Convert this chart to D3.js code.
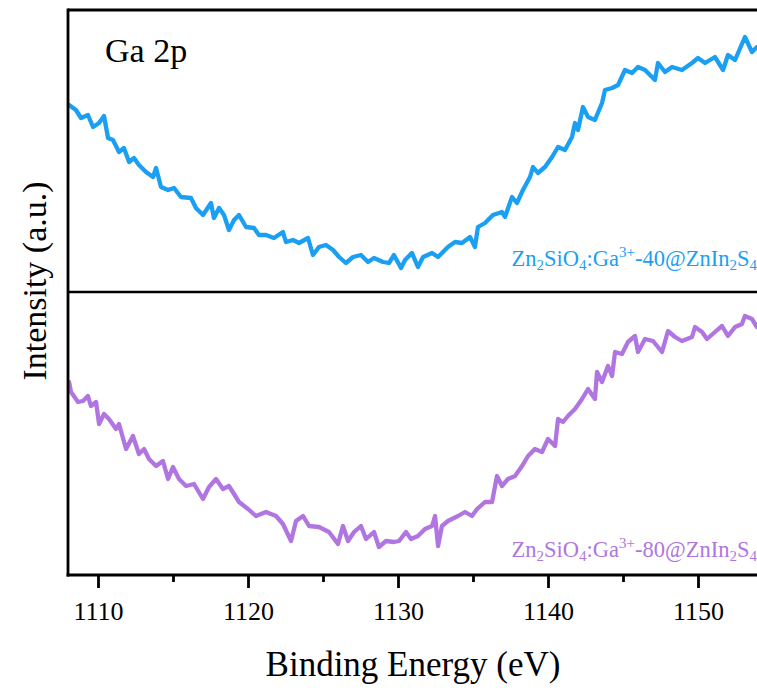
<!DOCTYPE html>
<html>
<head>
<meta charset="utf-8">
<script src="https://cdn.jsdelivr.net/npm/d3@7"></script>
<style>
  html, body { margin: 0; padding: 0; background: #fff; }
  svg { display: block; }
  text { font-family: "Liberation Serif", "Times New Roman", serif; }
</style>
</head>
<body>
<svg id="chart" width="757" height="693"></svg>
<script>
// ---------- data ----------
const xTicksMajor = [1110, 1120, 1130, 1140, 1150];
const xTicksMinor = [1115, 1125, 1135, 1145];
const xDomain = [1108, 1154];

// Series 1: Zn2SiO4:Ga3+-40@ZnIn2S4 (top panel), binding energy (eV) and intensity (a.u.)
const energy40 = [1108.07,1108.53,1108.87,1109.33,1109.67,1110.07,1110.40,1110.67,1111.00,1111.40,1111.73,1112.07,1112.40,1112.73,1113.20,1113.67,1113.87,1114.20,1114.67,1115.07,1115.53,1116.20,1116.53,1117.00,1117.53,1117.73,1118.07,1118.40,1118.73,1119.07,1119.40,1119.87,1120.40,1120.73,1121.20,1121.73,1122.33,1122.53,1123.00,1123.40,1124.00,1124.33,1124.73,1125.20,1125.67,1126.07,1126.53,1127.00,1127.53,1128.00,1128.40,1129.00,1129.40,1129.73,1130.20,1130.47,1130.93,1131.33,1131.67,1132.27,1132.67,1133.33,1133.80,1134.27,1134.80,1135.13,1135.33,1135.80,1136.33,1136.93,1137.13,1137.60,1137.93,1138.33,1138.80,1139.00,1139.33,1139.80,1140.27,1140.67,1141.13,1141.60,1141.80,1142.00,1142.33,1142.67,1143.13,1143.60,1143.80,1144.27,1144.67,1145.13,1145.60,1146.00,1146.47,1147.13,1147.33,1147.80,1148.27,1148.93,1149.60,1150.00,1150.47,1151.13,1151.67,1152.00,1152.47,1153.13,1153.60,1153.93];
const intensity40 = [187,182,174,177,165,169,176,154,152,140,144,130,134,127,120,115,124,105,102,104,95,94,84,77,89,74,84,77,62,72,77,65,64,57,57,54,60,50,52,49,54,37,45,47,42,35,29,35,37,30,34,30,29,37,24,32,39,25,35,39,35,45,50,49,55,45,65,69,77,80,75,95,89,102,115,125,119,125,135,145,142,155,169,162,185,175,172,189,202,204,207,222,219,225,222,212,229,220,225,222,229,234,229,235,222,237,232,255,240,245];

// Series 2: Zn2SiO4:Ga3+-80@ZnIn2S4 (bottom panel)
const energy80 = [1108.07,1108.20,1108.67,1109.00,1109.33,1109.53,1109.87,1110.07,1110.40,1110.73,1111.20,1111.40,1111.87,1112.33,1112.73,1113.07,1113.40,1113.87,1114.33,1114.67,1115.00,1115.40,1115.87,1116.40,1117.00,1117.40,1117.87,1118.33,1118.73,1119.07,1119.40,1120.00,1120.53,1121.20,1121.87,1122.33,1122.87,1123.20,1123.67,1124.07,1124.73,1125.40,1126.00,1126.33,1126.67,1127.07,1127.53,1127.87,1128.40,1128.73,1129.20,1129.73,1130.07,1130.53,1130.87,1131.33,1131.80,1132.27,1132.47,1132.67,1132.93,1133.33,1134.00,1134.47,1134.93,1135.27,1135.80,1136.27,1136.60,1136.93,1137.33,1137.80,1138.27,1138.67,1139.13,1139.60,1140.00,1140.47,1140.67,1141.00,1141.33,1141.80,1142.27,1142.67,1143.13,1143.27,1143.60,1144.00,1144.27,1144.47,1144.93,1145.33,1145.80,1146.00,1146.47,1147.00,1147.60,1148.00,1148.47,1148.93,1149.60,1149.80,1150.27,1150.60,1151.13,1151.60,1152.00,1152.47,1152.93,1153.13,1153.60,1153.93];
const intensity80 = [193,183,173,174,179,169,173,151,161,156,146,151,126,139,121,126,116,109,114,96,108,96,89,91,76,88,96,86,89,81,73,66,59,63,59,51,34,54,59,49,48,43,31,49,34,43,49,36,43,28,34,33,34,43,36,39,46,49,59,29,49,54,59,63,59,66,73,73,99,89,96,99,109,119,126,123,136,129,156,153,159,166,176,186,176,203,193,209,199,223,221,233,239,223,236,234,223,244,238,234,238,248,243,236,243,249,239,248,251,259,256,248];

const seriesLabels = ["-40@ZnIn", "-80@ZnIn"];
const seriesColors = ["#1A9FF3", "#B075E0"];

// ---------- layout ----------
const svg = d3.select("#chart");
const W = 757, H = 693;
const mLeft = 68, mRight = 758, mTop = 10, mMid = 292, mBottom = 575;

const x = d3.scaleLinear().domain(xDomain).range([mLeft, mRight]);
const yTop = d3.scaleLinear().domain([0, 282]).range([mMid, mTop]);
const yBot = d3.scaleLinear().domain([0, 283]).range([mBottom, mMid]);

svg.append("defs").append("clipPath").attr("id", "clip")
  .append("rect").attr("x", mLeft).attr("y", mTop).attr("width", W - mLeft).attr("height", mBottom - mTop);

const plot = svg.append("g").attr("clip-path", "url(#clip)");

function drawLine(en, inten, yScale, color) {
  const pts = en.map((e, i) => [e, inten[i]]);
  const line = d3.line().x(d => x(d[0])).y(d => yScale(d[1]));
  plot.append("path").datum(pts)
    .attr("d", line)
    .attr("fill", "none")
    .attr("stroke", color)
    .attr("stroke-width", 4.3)
    .attr("stroke-linejoin", "round")
    .attr("stroke-linecap", "round");
}
drawLine(energy40, intensity40, yTop, seriesColors[0]);
drawLine(energy80, intensity80, yBot, seriesColors[1]);

// frame
svg.append("line").attr("x1", mLeft).attr("x2", W + 2).attr("y1", mTop).attr("y2", mTop)
  .attr("stroke", "#000").attr("stroke-width", 2.8);
svg.append("line").attr("x1", mLeft).attr("x2", W + 2).attr("y1", mMid).attr("y2", mMid)
  .attr("stroke", "#000").attr("stroke-width", 2.4);
svg.append("line").attr("x1", mLeft).attr("x2", mLeft).attr("y1", mTop - 1.4).attr("y2", mBottom + 1.4)
  .attr("stroke", "#000").attr("stroke-width", 2.8);

// bottom axis
const axisMajor = d3.axisBottom(x).tickValues(xTicksMajor).tickSize(13).tickSizeOuter(0).tickPadding(14).tickFormat(d3.format("d"));
const gAx = svg.append("g").attr("transform", `translate(0,${mBottom})`).call(axisMajor);
gAx.attr("font-size", null).attr("font-family", null);
gAx.select(".domain").attr("stroke", "#000").attr("stroke-width", 2.8).attr("d", `M${mLeft - 1.4},0H${W + 2}`);
gAx.selectAll(".tick line").attr("stroke", "#000").attr("stroke-width", 2.8);
gAx.selectAll(".tick text").style("font-size", "26px").attr("fill", "#000");

const axisMinor = d3.axisBottom(x).tickValues(xTicksMinor).tickSize(7).tickFormat("");
const gMin = svg.append("g").attr("transform", `translate(0,${mBottom})`).call(axisMinor);
gMin.select(".domain").remove();
gMin.selectAll(".tick line").attr("stroke", "#000").attr("stroke-width", 2.8);

// axis titles
svg.append("text").attr("x", 413).attr("y", 676).attr("text-anchor", "middle")
  .style("font-size", "35px").attr("fill", "#000").text("Binding Energy (eV)");
svg.append("text").attr("transform", "translate(46,281) rotate(-90)").attr("text-anchor", "middle")
  .style("font-size", "34px").attr("fill", "#000").text("Intensity (a.u.)");

// panel title
svg.append("text").attr("x", 105).attr("y", 62).style("font-size", "34px").attr("fill", "#000").text("Ga 2p");

// series labels with sub/superscripts
function chemLabel(xPos, yPos, color, midText) {
  const t = svg.append("text").attr("x", xPos).attr("y", yPos).attr("text-anchor", "end")
    .style("font-size", "22.5px").attr("fill", color);
  const parts = [
    ["Zn", 0], ["2", 1], ["SiO", 0], ["4", 1], [":Ga", 0], ["3+", 2], [midText, 0], ["2", 1], ["S", 0], ["4", 1]
  ];
  parts.forEach(([s, k]) => {
    const sp = t.append("tspan").text(s);
    if (k === 1) sp.style("font-size", "15px").attr("baseline-shift", "-4");
    if (k === 2) sp.style("font-size", "15px").attr("baseline-shift", "9");
  });
}
chemLabel(757, 266, seriesColors[0], seriesLabels[0]);
chemLabel(757, 557, seriesColors[1], seriesLabels[1]);
</script>
</body>
</html>
